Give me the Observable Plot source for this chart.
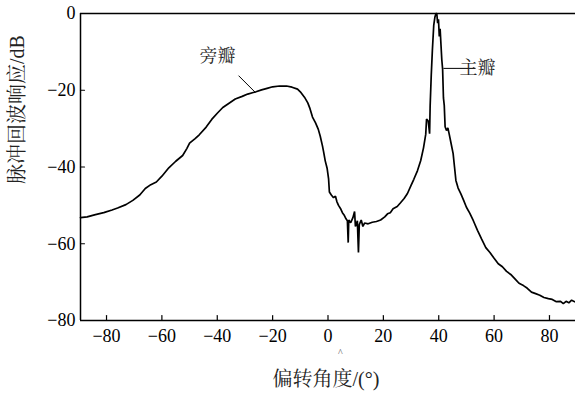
<!DOCTYPE html>
<html>
<head>
<meta charset="utf-8">
<script src="https://cdn.jsdelivr.net/npm/d3@7"></script>
<script src="https://cdn.jsdelivr.net/npm/@observablehq/plot@0.6"></script>
<style>
  html, body { margin: 0; padding: 0; background: #fff; }
  #chart { width: 575px; height: 395px; overflow: hidden; font-family: "Liberation Serif", "Noto Serif CJK SC", serif; }
</style>
</head>
<body>
<div id="chart"></div>
<script>
// ---- data ----
const angles = [
  -89.4, -87, -84, -81, -78, -76, -73, -70.5, -68, -66, -64, -62, -60, -57.5, -55, -52.5, -51, -50,
  -48, -46.5, -44, -42, -40, -38, -36, -33.5, -31, -29, -27, -26, -24, -22, -20, -17.5, -15, -13,
  -11, -10, -8.5, -7.3, -6.5, -5.6, -4.5, -3.5, -2.8, -2, -1.6, -1, -0.3, 0.2, 0.5, 1.2, 2, 2.7,
  3.2, 3.8, 4.5, 5.2, 5.8, 6.5, 7.0, 7.3, 7.5, 8.2, 9.0, 9.6, 9.9, 10.6, 11.0, 11.3, 12.0, 12.6,
  13.2, 14.5, 16, 17.5, 19, 20.5, 21.5, 22.5, 23.5, 25, 26.2, 27.5, 28.7, 30, 31, 32.3, 33.5, 34.5,
  35.3, 35.6, 36.2, 36.7, 36.9, 37.3, 37.7, 38.2, 38.6, 39.0, 39.3, 39.6, 39.9, 40.2, 40.5, 40.8,
  41.1, 41.4, 41.7, 42.0, 42.3, 42.8, 43.3, 43.8, 44.5, 45.2, 45.7, 46.2, 47, 48, 49, 50, 51.2,
  52.5, 54, 55.5, 57, 58.5, 60, 61.5, 63, 64.5, 66, 67.7, 69, 70.6, 72, 73.5, 75, 76.5, 78, 79.6,
  81, 82.5, 84, 85, 86, 87, 88, 89.4
];
const responses = [
  -53.2, -53.0, -52.4, -51.9, -51.2, -50.7, -49.8, -48.7, -47.3, -45.6, -44.6, -43.9, -42.4, -40.2, -38.5, -37.0, -35.2, -33.8,
  -32.6, -31.6, -29.6, -27.6, -26.0, -24.5, -23.5, -22.3, -21.6, -21.0, -20.6, -20.4, -19.9, -19.5, -19.1, -18.9, -18.9, -19.2,
  -19.7, -20.4, -21.8, -23.3, -24.8, -27.0, -28.5, -30.2, -32.0, -34.5, -36.0, -38.4, -40.4, -43.0, -46.5, -47.3, -48.0, -47.6,
  -49.0, -50.0, -50.8, -51.9, -52.5, -53.5, -54.0, -59.7, -53.8, -54.5, -53.2, -51.6, -55.5, -54.0, -62.3, -55.0, -53.8, -55.5,
  -54.6, -54.8, -54.4, -54.2, -53.8, -53.0, -52.2, -51.9, -50.9, -50.3, -49.3, -48.2, -46.9, -44.8, -43.2, -41.0, -38.3, -35.0,
  -31.5, -27.5, -28.0, -31.3, -24.0, -16.0, -9.6, -3.0, -1.0, 0, 0, -2.5, -1.5, -6.0, -4.0, -8.0,
  -12.0, -14.5, -22.0, -24.0, -29.5, -30.5, -29.8, -31.5, -34.0, -36.5, -40.0, -43.5, -45.5, -47.0, -48.7, -50.5, -52.0,
  -54.0, -56.5, -58.8, -61.0, -62.3, -63.8, -65.2, -66.0, -67.2, -68.0, -69.3, -70.3, -70.9, -71.6, -72.6, -73.0, -73.4, -74.0, -74.3,
  -74.5, -75.1, -75.0, -75.6, -75.0, -75.4, -74.7, -75.2
];
const xDomain = [-89.4, 89.4];
const yDomain = [-80, 0];
const xTicks = [-80, -60, -40, -20, 0, 20, 40, 60, 80];
const yTicks = [0, -20, -40, -60, -80];
const xTitle = "偏转角度/(°)";
const yTitle = "脉冲回波响应/dB";

// annotations (data units)
const annoText = ["旁瓣", "主瓣"];
const annoX = [-39.9, 54.0];
const annoY = [-11.2, -14.3];
const annoAnchor = ["middle", "start"];
const leaderX1 = [-32.3, 41.7];
const leaderY1 = [-16.2, -14.3];
const leaderX2 = [-26.2, 53.3];
const leaderY2 = [-20.6, -14.3];

// ---- chart ----
const tickShape = { draw(context, l) { context.moveTo(0, 0); context.lineTo(0, -l); } };
const FONT = "\"Liberation Serif\", \"Noto Serif CJK SC\", serif";
const fmt = d3.format("d");

const chart = Plot.plot({
  width: 575,
  height: 395,
  marginLeft: 80,
  marginRight: 0,
  marginTop: 13,
  marginBottom: 75,
  x: { domain: xDomain, axis: null },
  y: { domain: yDomain, axis: null },
  style: { background: "white", color: "black", overflow: "visible" },
  marks: [
    // tick labels
    Plot.text(xTicks, { x: d => d, y: yDomain[0], dy: 16, text: d => fmt(d), fontSize: 18, fill: "black", lineAnchor: "middle", fontFamily: FONT }),
    Plot.text(yTicks, { x: xDomain[0], y: d => d, dx: -5, text: d => fmt(d), fontSize: 18, fill: "black", textAnchor: "end", lineAnchor: "middle", fontFamily: FONT }),
    // inward ticks
    Plot.vector(xTicks, { x: d => d, y: yDomain[0], length: 5, rotate: 0, anchor: "start", shape: tickShape, stroke: "black", strokeWidth: 1.2 }),
    Plot.vector(yTicks.slice(1, -1), { x: xDomain[0], y: d => d, length: 4, rotate: 90, anchor: "start", shape: tickShape, stroke: "black", strokeWidth: 1.2 }),
    // frame lines
    Plot.ruleY([yDomain[0], yDomain[1]], { stroke: "black", strokeWidth: 1.5 }),
    Plot.ruleX([xDomain[0]], { stroke: "black", strokeWidth: 1.5 }),
    // curve
    Plot.line({ length: angles.length }, { x: angles, y: responses, stroke: "black", strokeWidth: 1.7, strokeLinejoin: "miter", curve: "linear" }),
    // annotations
    Plot.link({ length: annoText.length }, { x1: leaderX1, y1: leaderY1, x2: leaderX2, y2: leaderY2, stroke: "black", strokeWidth: 1 }),
    Plot.text({ length: annoText.length }, { x: annoX, y: annoY, text: annoText, textAnchor: (d, i) => annoAnchor[i], fontSize: 18, fill: "#222", fontFamily: FONT }),
    // axis titles
    Plot.text([yTitle], { frameAnchor: "left", dx: -63, dy: 17, rotate: -90, fontSize: 20, fill: "#222", fontFamily: FONT }),
    Plot.text([xTitle], { frameAnchor: "bottom", dx: -2, dy: 65, fontSize: 20, fill: "#222", fontFamily: FONT }),
    Plot.text(["^"], { x: 4.5, y: yDomain[0], dy: 32, fontSize: 10, fill: "#555" })
  ]
});
d3.select(chart).attr("font-family", FONT).style("font-family", FONT);
document.getElementById("chart").appendChild(chart);
</script>
</body>
</html>
